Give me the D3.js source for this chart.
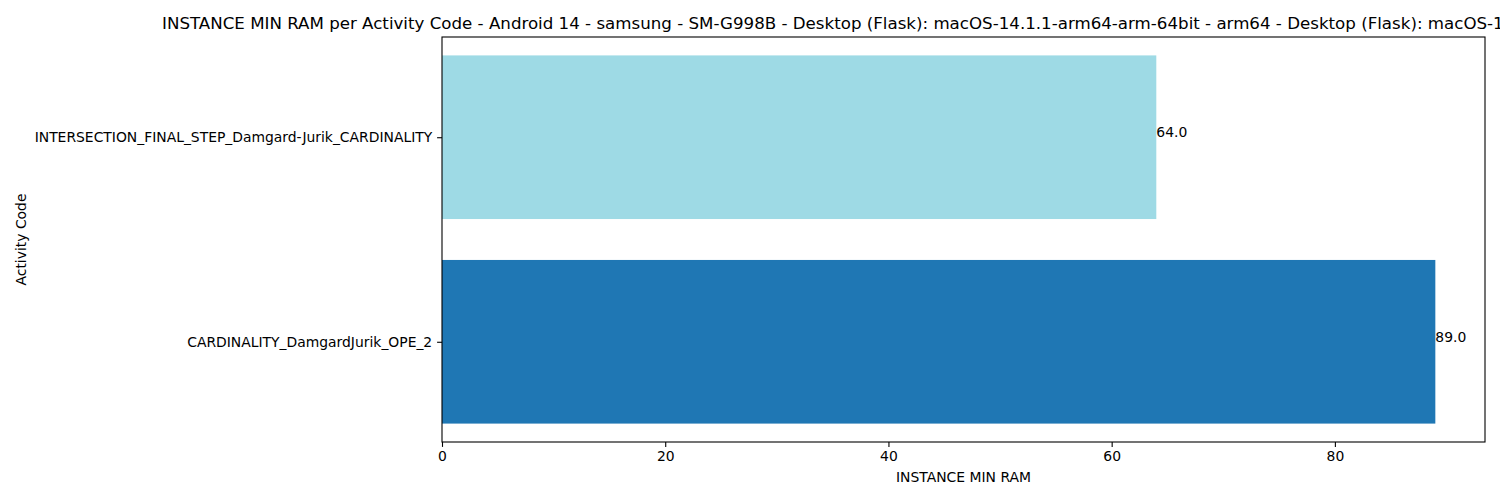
<!DOCTYPE html>
<html>
<head>
  <meta charset="utf-8">
  <title>INSTANCE MIN RAM per Activity Code</title>
  <script src="https://d3js.org/d3.v7.min.js"></script>
  <style>
    body { margin: 0; background: #fff; }
    svg { display: block; font-family: "DejaVu Sans", sans-serif; }
  </style>
</head>
<body>
<div id="chart"></div>
<script>
  // data
  var activities = ["CARDINALITY_DamgardJurik_OPE_2", "INTERSECTION_FINAL_STEP_Damgard-Jurik_CARDINALITY"];
  var minRam = [89.0, 64.0];
  var barColors = ["#1f77b4", "#9edae5"];
  var xTicks = [0, 20, 40, 60, 80];

  var titleText = "INSTANCE MIN RAM per Activity Code - Android 14 - samsung - SM-G998B - Desktop (Flask): macOS-14.1.1-arm64-arm-64bit - arm64 - Desktop (Flask): macOS-14.1.1-arm64-arm-64bit - arm64";

  var W = 1500, H = 500;
  var margin = { top: 37, right: 15, bottom: 58, left: 442 },
    width = W - margin.left - margin.right,
    height = H - margin.top - margin.bottom;

  var svg = d3.select("#chart").append("svg")
    .attr("width", W)
    .attr("height", H);

  var g = svg.append("g")
    .attr("transform", "translate(" + margin.left + "," + margin.top + ")");

  // matplotlib style: 5% margin on x from 0, bars 0.8 tall
  var xMax = d3.max(minRam) * 1.05;
  var x = d3.scaleLinear().domain([0, xMax]).range([0, width]);
  var y = d3.scaleLinear().domain([-0.49, activities.length - 1 + 0.49]).range([height, 0]);
  var barH = 0.8;

  g.selectAll(".bar")
    .data(minRam)
    .enter().append("rect")
    .attr("class", "bar")
    .attr("x", x(0))
    .attr("y", function (d, i) { return y(i + barH / 2); })
    .attr("width", function (d) { return x(d) - x(0); })
    .attr("height", function (d, i) { return y(i - barH / 2) - y(i + barH / 2); })
    .attr("fill", function (d, i) { return barColors[i]; });

  // value labels (baseline on bar centre)
  g.selectAll(".val")
    .data(minRam)
    .enter().append("text")
    .attr("class", "val")
    .attr("x", function (d) { return x(d); })
    .attr("y", function (d, i) { return y(i); })
    .style("font-size", "13.9px")
    .attr("fill", "#000")
    .text(function (d) { return d.toFixed(1); });

  // x axis
  var xAxis = g.append("g")
    .attr("transform", "translate(0," + height + ")")
    .call(d3.axisBottom(x).tickValues(xTicks).tickSize(4.9).tickPadding(4.2).tickFormat(d3.format("d")));

  // y axis
  var yAxis = g.append("g")
    .call(d3.axisLeft(y).tickValues(d3.range(activities.length)).tickSize(4.9).tickPadding(4.9)
      .tickFormat(function (d) { return activities[d]; }));

  [xAxis, yAxis].forEach(function (a) {
    a.selectAll("text").style("font-size", "13.9px").attr("fill", "#000").style("font-family", "DejaVu Sans");
    a.selectAll("line").attr("stroke", "#000").attr("stroke-width", 1.1);
    a.select(".domain").remove();
  });

  // frame
  g.append("rect")
    .attr("x", 0).attr("y", 0)
    .attr("width", width).attr("height", height)
    .attr("fill", "none")
    .attr("stroke", "#000")
    .attr("stroke-width", 1.1);

  // title
  svg.append("text")
    .attr("x", margin.left + width / 2)
    .attr("y", margin.top - 8.3)
    .attr("text-anchor", "middle")
    .style("font-size", "16.67px")
    .attr("fill", "#000")
    .text(titleText);

  // axis labels
  svg.append("text")
    .attr("x", margin.left + width / 2)
    .attr("y", 482)
    .attr("text-anchor", "middle")
    .style("font-size", "13.9px")
    .attr("fill", "#000")
    .text("INSTANCE MIN RAM");

  svg.append("text")
    .attr("transform", "translate(26," + (margin.top + height / 2) + ") rotate(-90)")
    .attr("text-anchor", "middle")
    .style("font-size", "13.9px")
    .attr("fill", "#000")
    .text("Activity Code");
</script>
</body>
</html>
